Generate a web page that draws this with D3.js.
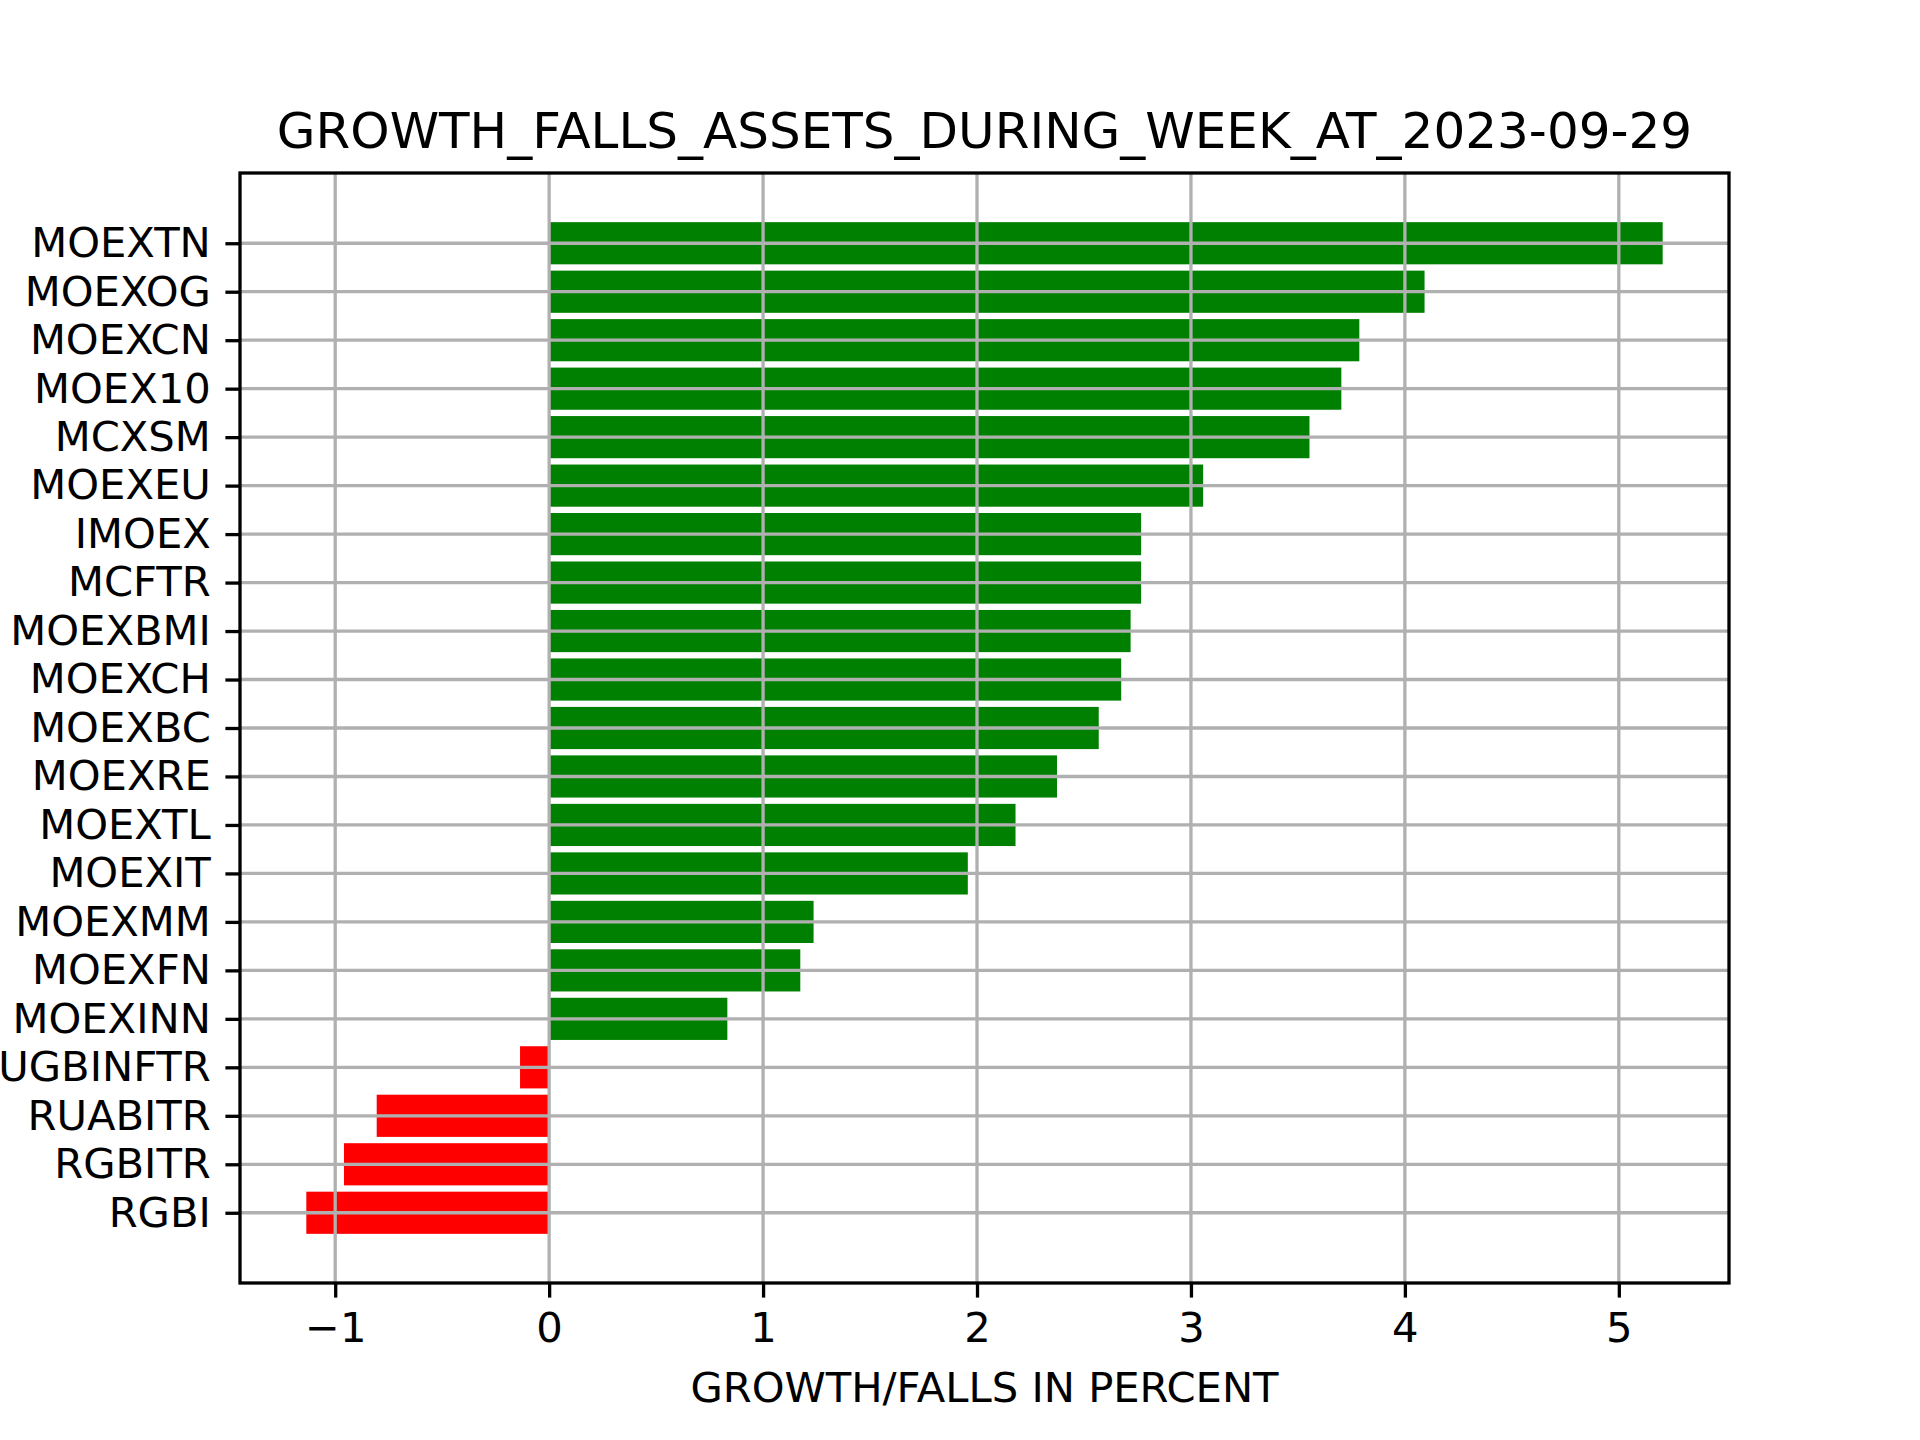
<!DOCTYPE html>
<html><head><meta charset="utf-8">
<script src="https://cdn.jsdelivr.net/npm/d3@7"></script>
<style>html,body{margin:0;padding:0;background:#fff;}</style>
</head><body>
<script>
const categories = ["MOEXTN","MOEXOG","MOEXCN","MOEX10","MCXSM","MOEXEU","IMOEX","MCFTR","MOEXBMI","MOEXCH","MOEXBC","MOEXRE","MOEXTL","MOEXIT","MOEXMM","MOEXFN","MOEXINN","RUGBINFTR","RUABITR","RGBITR","RGBI"];
const values = [5.205,4.092,3.787,3.703,3.554,3.057,2.767,2.767,2.718,2.674,2.569,2.374,2.180,1.957,1.236,1.174,0.833,-0.136,-0.806,-0.959,-1.135];
const xTicks = [-1,0,1,2,3,4,5];
const title = "GROWTH_FALLS_ASSETS_DURING_WEEK_AT_2023-09-29";
const xLabel = "GROWTH/FALLS IN PERCENT";

const W = 1920, H = 1440;
const L = 240, R = 1729, T = 173, B = 1283;
const FONT = "'DejaVu Sans', sans-serif";

const svg = d3.select("body").append("svg").attr("width", W).attr("height", H)
  .style("background", "#fff");

const x = d3.scaleLinear().domain([-1.445, 5.515]).range([L, R]);
const n = categories.length;
const barH = 0.87, marg = 1.449;
const y = d3.scaleLinear().domain([-marg, n - 1 + marg]).range([T, B]);

// bars
svg.append("g").selectAll("rect").data(values).join("rect")
  .attr("x", d => x(Math.min(0, d)))
  .attr("width", d => Math.abs(x(d) - x(0)))
  .attr("y", (d, i) => y(i - barH/2))
  .attr("height", y(barH) - y(0))
  .attr("fill", d => d >= 0 ? "#008000" : "#ff0000");

// grid (drawn above bars)
const grid = svg.append("g").attr("stroke", "#b0b0b0").attr("stroke-width", 3.3);
grid.selectAll("line.gx").data(xTicks).join("line").attr("class","gx")
  .attr("x1", d => x(d)).attr("x2", d => x(d)).attr("y1", T).attr("y2", B);
grid.selectAll("line.gy").data(categories).join("line").attr("class","gy")
  .attr("x1", L).attr("x2", R).attr("y1", (d,i) => y(i)).attr("y2", (d,i) => y(i));

// x axis
const xAxis = d3.axisBottom(x).tickValues(xTicks).tickFormat(d3.format("d")).tickSize(14.6).tickPadding(14.6);
const gx = svg.append("g").attr("transform", `translate(0,${B})`).call(xAxis);
gx.select(".domain").remove();
gx.selectAll(".tick line").attr("stroke", "#000").attr("stroke-width", 3.3);
gx.selectAll(".tick text").attr("font-family", FONT).attr("font-size", 41.7).attr("fill", "#000");

// y axis
const yBand = d3.scalePoint().domain(categories).range([y(0), y(n-1)]);
const yAxis = d3.axisLeft(yBand).tickSize(14.6).tickPadding(14.6);
const gy = svg.append("g").attr("transform", `translate(${L},0)`).call(yAxis);
gy.select(".domain").remove();
gy.selectAll(".tick line").attr("stroke", "#000").attr("stroke-width", 3.3);
gy.selectAll(".tick text").attr("font-family", FONT).attr("font-size", 41.7).attr("fill", "#000");

// spines
svg.append("rect").attr("x", L).attr("y", T).attr("width", R - L).attr("height", B - T)
  .attr("fill", "none").attr("stroke", "#000").attr("stroke-width", 3.3);

// title
svg.append("text").attr("x", (L + R)/2).attr("y", T - 25).attr("text-anchor", "middle")
  .attr("font-family", FONT).attr("font-size", 50).attr("fill", "#000").text(title);

// x label
svg.append("text").attr("x", (L + R)/2).attr("y", 1402).attr("text-anchor", "middle")
  .attr("font-family", FONT).attr("font-size", 41.7).attr("fill", "#000").text(xLabel);
</script>
</body></html>
